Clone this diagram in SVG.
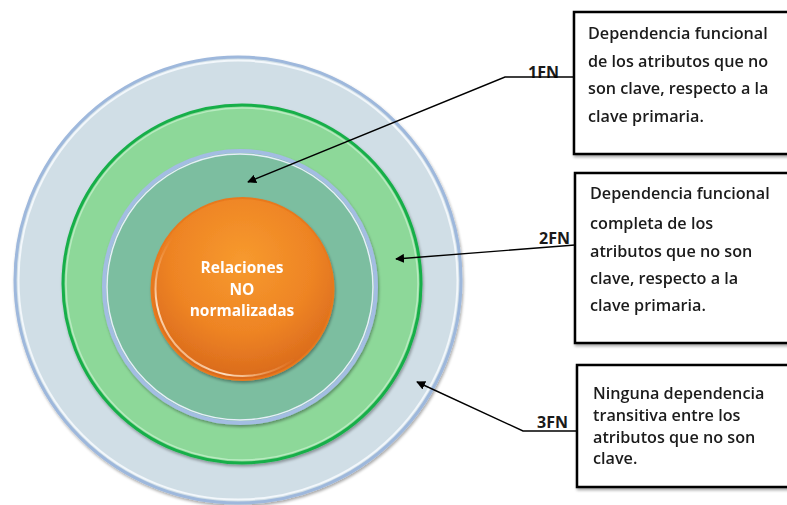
<svg xmlns="http://www.w3.org/2000/svg" width="787" height="505" viewBox="0 0 787 505">
  <defs>
    <radialGradient id="orangeFill" cx="50%" cy="35%" r="65%">
      <stop offset="0" stop-color="#F79A2E"/>
      <stop offset="0.6" stop-color="#EE8424"/>
      <stop offset="1" stop-color="#D9691C"/>
    </radialGradient>
    <linearGradient id="orangeRim" x1="1" y1="0" x2="0" y2="1">
      <stop offset="0" stop-color="#F5A253" stop-opacity="0"/>
      <stop offset="0.55" stop-color="#F5A253" stop-opacity="0"/>
      <stop offset="0.8" stop-color="#FFE6CC" stop-opacity="0.95"/>
      <stop offset="1" stop-color="#F5A253" stop-opacity="0.2"/>
    </linearGradient>
    <filter id="soft" x="-10%" y="-10%" width="120%" height="120%">
      <feGaussianBlur stdDeviation="0.6"/>
    </filter>
    <filter id="shadow" x="-10%" y="-10%" width="130%" height="130%">
      <feGaussianBlur in="SourceAlpha" stdDeviation="1.5"/>
      <feOffset dx="1" dy="2"/>
      <feComponentTransfer><feFuncA type="linear" slope="0.35"/></feComponentTransfer>
      <feMerge><feMergeNode/><feMergeNode in="SourceGraphic"/></feMerge>
    </filter>
    <marker id="arrow" viewBox="0 0 10 10" refX="9" refY="5" markerWidth="9" markerHeight="9" markerUnits="userSpaceOnUse" orient="auto">
      <path d="M0,0 L10,5 L0,10 Z" fill="#000"/>
    </marker>
  </defs>
  <style>
    .box { fill: #fff; stroke: #000; stroke-width: 2.5; }
    .boxtext { font-family: "Open Sans", Lato, "Liberation Sans", sans-serif; font-weight: 600; font-size: 16.2px; fill: #1a1a1a; }
    .lbl { font-family: "Open Sans", Lato, "Liberation Sans", sans-serif; font-weight: bold; font-size: 16px; fill: #1a1a1a; }
    .center { font-family: "Open Sans", Lato, "Liberation Sans", sans-serif; font-weight: bold; font-size: 15.5px; fill: #fff; text-anchor: middle; }
    .conn { fill: none; stroke: #000; stroke-width: 1.4; }
  </style>

  <rect width="787" height="505" fill="#fff"/>

  <!-- concentric rings -->
  <g id="ring-3fn" filter="url(#shadow)">
    <circle cx="238" cy="280" r="223" fill="#D0DEE6" stroke="#9EB8DC" stroke-width="3"/>
    <circle cx="238" cy="280" r="219.5" fill="none" stroke="#F2F7FB" stroke-width="2" filter="url(#soft)"/>
  </g>
  <g id="ring-2fn" filter="url(#shadow)">
    <circle cx="242" cy="284" r="179" fill="#8DD899" stroke="#19AF4A" stroke-width="3"/>
    <circle cx="242" cy="284" r="176" fill="none" stroke="#B8EBC0" stroke-width="1.5" filter="url(#soft)"/>
  </g>
  <g id="ring-1fn" filter="url(#shadow)">
    <circle cx="240" cy="287" r="136" fill="#7BBEA0" stroke="#A3BDE2" stroke-width="4"/>
    <circle cx="240" cy="287" r="133" fill="none" stroke="#E6EEF8" stroke-width="1.5" filter="url(#soft)"/>
  </g>
  <g id="core" filter="url(#shadow)">
    <circle cx="242.5" cy="289" r="91" fill="url(#orangeFill)" stroke="#E8791F" stroke-width="2"/>
    <circle cx="242.5" cy="289" r="87" fill="none" stroke="url(#orangeRim)" stroke-width="2" filter="url(#soft)"/>
    <text class="center" x="242" y="273">Relaciones</text>
    <text class="center" x="242" y="295">NO</text>
    <text class="center" x="242" y="316">normalizadas</text>
  </g>

  <!-- description boxes -->
  <g id="box-1fn" filter="url(#shadow)">
    <rect class="box" x="574" y="12" width="225" height="142"/>
    <text class="boxtext" x="588" y="39">Dependencia funcional</text>
    <text class="boxtext" x="588" y="67">de los atributos que no</text>
    <text class="boxtext" x="588" y="94">son clave, respecto a la</text>
    <text class="boxtext" x="588" y="122">clave primaria.</text>
  </g>
  <g id="box-2fn" filter="url(#shadow)">
    <rect class="box" x="575" y="173" width="225" height="170"/>
    <text class="boxtext" x="590" y="199">Dependencia funcional</text>
    <text class="boxtext" x="590" y="229">completa de los</text>
    <text class="boxtext" x="590" y="257">atributos que no son</text>
    <text class="boxtext" x="590" y="284">clave, respecto a la</text>
    <text class="boxtext" x="590" y="311">clave primaria.</text>
  </g>
  <g id="box-3fn" filter="url(#shadow)">
    <rect class="box" x="577" y="365" width="225" height="122"/>
    <text class="boxtext" x="593" y="399">Ninguna dependencia</text>
    <text class="boxtext" x="593" y="421">transitiva entre los</text>
    <text class="boxtext" x="593" y="443">atributos que no son</text>
    <text class="boxtext" x="593" y="464">clave.</text>
  </g>

  <!-- level labels -->
  <g id="labels">
    <text class="lbl" x="528" y="78">1FN</text>
    <text class="lbl" x="539" y="244">2FN</text>
    <text class="lbl" x="537" y="428">3FN</text>
  </g>

  <!-- connectors -->
  <g id="connectors">
    <polyline class="conn" points="574,77 505,77 248,182" marker-end="url(#arrow)"/>
    <polyline class="conn" points="575,245 396,259" marker-end="url(#arrow)"/>
    <polyline class="conn" points="577,431 523,431 417,382" marker-end="url(#arrow)"/>
  </g>
</svg>
